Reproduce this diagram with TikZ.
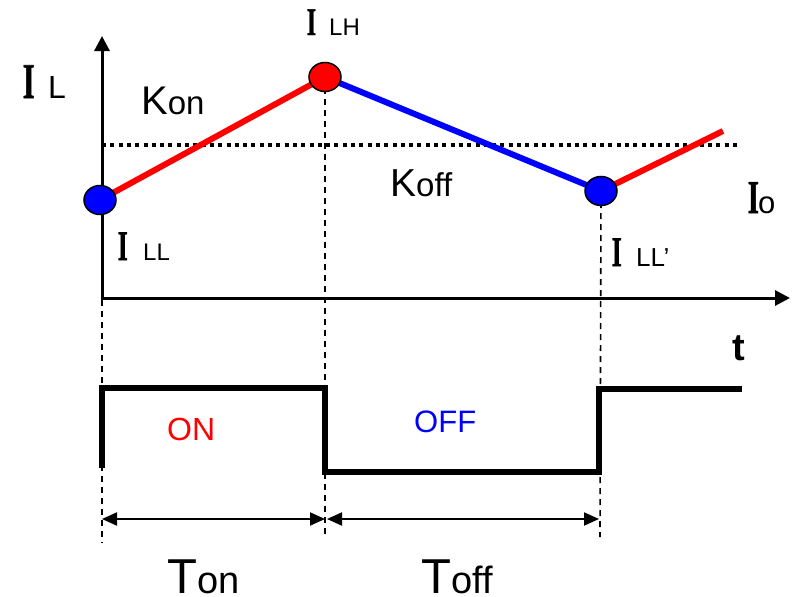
\documentclass[tikz,border=0pt]{standalone}
\usepackage{graphicx}
\usepackage{fontspec}
\setmainfont{Liberation Sans}
\newfontfamily\serIB{Liberation Serif Bold}[FakeBold=1.2]
\usetikzlibrary{arrows.meta,shapes.geometric}
\newcommand\fs[1]{\fontsize{#1}{#1}\selectfont}
\newcommand\bigI[1]{\scalebox{0.62}[1]{\serIB\fs{#1}I}}
\begin{document}
\begin{tikzpicture}[x=1pt,y=-1pt,
  lbl/.style={inner sep=0pt, anchor=base west},
  dot/.style={ellipse, draw=black, line width=1.5pt, minimum width=32pt, minimum height=29pt, inner sep=0pt},
  wave/.style={line width=5.5pt, line join=miter},
  guide/.style={line width=1.6pt, dash pattern=on 6pt off 5pt},
  axis/.style={line width=3pt, -{Triangle[length=15pt,width=15pt]}},
  dim/.style={line width=2pt, {Triangle[length=15pt,width=13pt]}-{Triangle[length=15pt,width=13pt]}},
  seg/.style={line width=6pt},
  avg/.style={line width=3.5pt, dash pattern=on 4pt off 4.3pt}]
\useasboundingbox (0,0) rectangle (796,597);
% key points
\coordinate (pLL) at (100,200);
\coordinate (pLH) at (325,77);
\coordinate (pLL2) at (601,191);
\coordinate (pEnd) at (723,131);
\coordinate (O) at (102,298);
\coordinate (Ob) at (102,300);
\coordinate (ytop) at (102,36);
\coordinate (xend) at (790,298);
\coordinate (avgA) at (102,145);
\coordinate (avgB) at (737,145);
% dashed guides
\coordinate (g1b) at (102,543);
\coordinate (g2b) at (325,537);
\coordinate (g3b) at (600,537);
\draw[guide] (Ob) -- (g1b);
\draw[guide] (pLH) -- (g2b);
\draw[guide] (pLL2) -- (g3b);
% axes
\draw[axis] (Ob) -- (ytop);
\draw[axis] (O) -- (xend);
% average line
\draw[avg] (avgA) -- (avgB);
% current waveform
\draw[seg, red] (pLL) -- (pLH);
\draw[seg, blue] (pLH) -- (pLL2);
\draw[seg, red] (pLL2) -- (pEnd);
\node[dot, fill=blue] (LL) at (pLL) {};
\node[dot, fill=red] (LH) at (pLH) {};
\node[dot, fill=blue] (LL2) at (pLL2) {};
% switching waveform
\coordinate (w0) at (102,468);
\coordinate (w1) at (102,388);
\coordinate (w2) at (325,388);
\coordinate (w3) at (325,472);
\coordinate (w4) at (599,472);
\coordinate (w5) at (599,389);
\coordinate (w6) at (742,389);
\draw[wave] (w0) -- (w1) -- (w2) -- (w3) -- (w4) -- (w5) -- (w6);
% dimension arrows
\coordinate (d0) at (102,519);
\coordinate (d1) at (325,519);
\coordinate (d2) at (327,519);
\coordinate (d3) at (599,519);
\draw[dim] (d0) -- (d1);
\draw[dim] (d2) -- (d3);
% labels
\node[lbl] (ilI) at (22.5,98) {\bigI{50}};
\node[lbl] (ilL) at (48,98) {\fs{32}L};
\node[lbl] (lhI) at (306.5,35) {\bigI{39}};
\node[lbl] (lhL) at (329,35) {\fs{24}LH};
\node[lbl] (llI) at (117.5,260) {\bigI{42}};
\node[lbl] (llL) at (143,260) {\fs{24}LL};
\node[lbl] (ll2I) at (611.5,266) {\bigI{42}};
\node[lbl] (ll2L) at (636,266) {\fs{26}LL’};
\node[lbl] (ioI) at (747.5,213) {\bigI{47}};
\node[lbl] (ioO) at (758,213) {\fs{31}o};
\node[lbl] (kon) at (141,114) {\fs{40}K\fs{33}on};
\node[lbl] (koff) at (390,196) {\fs{39}K\fs{33}off};
\node[lbl] (tt) at (732,360) {\fs{38}\bfseries t};
\node[lbl, text=red] (on) at (167,440) {\fs{32}ON};
\node[lbl, text=blue] (off) at (414,432) {\fs{31}OFF};
\node[lbl] (ton) at (167,593) {\fs{49}T\fs{38}on};
\node[lbl] (toff) at (421,593) {\fs{49}T\fs{38}off};
\end{tikzpicture}
\end{document}
